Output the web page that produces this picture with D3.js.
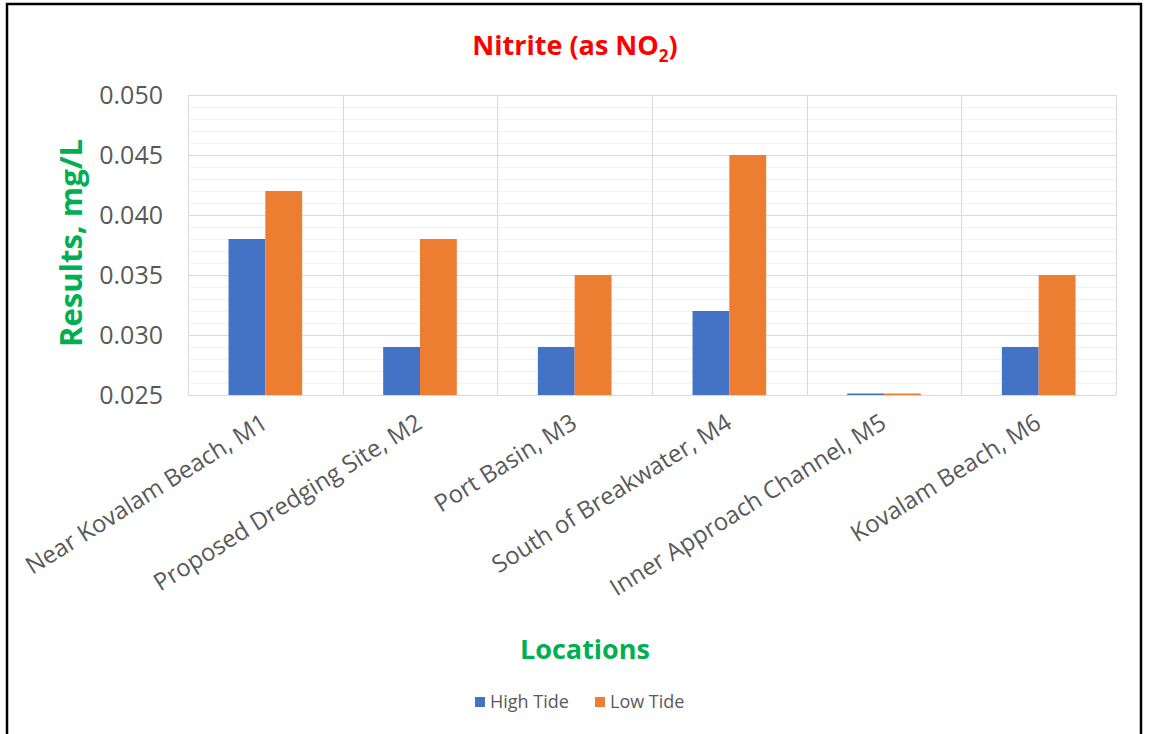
<!DOCTYPE html>
<html><head><meta charset="utf-8">
<script src="https://cdn.jsdelivr.net/npm/d3@7"></script>
<style>body{margin:0;background:#fff;} text{font-family:"Open Sans","Noto Sans",sans-serif;}</style>
</head><body>
<svg id="c" width="1149" height="734"></svg>
<script>
const categories = ["Near Kovalam Beach, M1","Proposed Dredging Site, M2","Port Basin, M3","South of Breakwater, M4","Inner Approach Channel, M5","Kovalam Beach, M6"];
const seriesNames = ["High Tide","Low Tide"];
const highTide = [0.038,0.029,0.029,0.032,0.025,0.029];
const lowTide = [0.042,0.038,0.035,0.045,0.025,0.035];
const yTicks = [0.025,0.030,0.035,0.040,0.045,0.050];
const colors = ["#4472C4","#ED7D31"];

const svg = d3.select("#c");
svg.append("rect").attr("x",7).attr("y",4).attr("width",1134).attr("height",740)
  .attr("fill","#fff").attr("stroke","#000").attr("stroke-width",2.5);

const L=188,R=1116,T=95,B=395;
const x = d3.scaleBand().domain(categories).range([L,R]);
const y = d3.scaleLinear().domain([0.025,0.050]).range([B,T]);
const sub = d3.scaleBand().domain(seriesNames).range([0,x.bandwidth()]).paddingInner(0).paddingOuter(1.1);

// minor gridlines
const minor = d3.range(26).map(i=>0.025+i*0.001);
svg.append("g").selectAll("line").data(minor).join("line")
  .attr("x1",L).attr("x2",R).attr("y1",d=>Math.round(y(d))+0.5).attr("y2",d=>Math.round(y(d))+0.5)
  .attr("stroke","#F2F2F2").attr("stroke-width",1);
// major gridlines
svg.append("g").selectAll("line").data(yTicks).join("line")
  .attr("x1",L).attr("x2",R).attr("y1",d=>Math.round(y(d))+0.5).attr("y2",d=>Math.round(y(d))+0.5)
  .attr("stroke","#D9D9D9").attr("stroke-width",1);
// vertical gridlines
const vx = categories.map(c=>x(c)).concat([R]);
svg.append("g").selectAll("line").data(vx).join("line")
  .attr("x1",d=>Math.round(d)+0.5).attr("x2",d=>Math.round(d)+0.5).attr("y1",T).attr("y2",B)
  .attr("stroke","#D9D9D9").attr("stroke-width",1);

// bars
const data = [highTide, lowTide];
data.forEach((vals,si)=>{
  svg.append("g").selectAll("rect").data(vals).join("rect")
    .attr("x",(d,i)=>x(categories[i])+sub(seriesNames[si]))
    .attr("width",sub.bandwidth())
    .attr("y",d=>Math.min(y(d), B-1.5))
    .attr("height",d=>Math.max(B-y(d),1.5))
    .attr("fill",colors[si]);
});
// baseline
svg.append("line").attr("x1",L).attr("x2",R).attr("y1",B+0.5).attr("y2",B+0.5).attr("stroke","#D9D9D9");

// y axis
const yAxis = d3.axisLeft(y).tickValues(yTicks).tickFormat(d3.format(".3f")).tickSize(0).tickPadding(0);
const gy = svg.append("g").attr("transform",`translate(163,0)`).call(yAxis);
gy.select(".domain").remove();
gy.selectAll("text").attr("font-size",25).attr("fill","#595959").attr("font-family","Open Sans");

// x axis labels
const xAxis = d3.axisBottom(x).tickSize(0).tickPadding(0);
const gx = svg.append("g").attr("transform",`translate(0,${B})`).call(xAxis);
gx.select(".domain").remove();
gx.selectAll("text").attr("font-size",24).attr("fill","#595959")
  .attr("text-anchor","end").attr("dy",0)
  .attr("transform","translate(4,32) rotate(-32)");

// title
const title = svg.append("text").attr("x",575).attr("y",55).attr("text-anchor","middle")
  .attr("fill","#FF0000").attr("font-weight","bold").attr("font-size",27);
title.append("tspan").text("Nitrite (as NO");
title.append("tspan").text("2").attr("font-size",17).attr("dy",7);
title.append("tspan").text(")").attr("dy",-7);

// y title
svg.append("text").attr("transform","translate(82,243) rotate(-90)").attr("text-anchor","middle")
  .attr("fill","#00B050").attr("font-weight","bold").attr("font-size",31).text("Results, mg/L");
// x title
svg.append("text").attr("x",585).attr("y",659).attr("text-anchor","middle")
  .attr("fill","#00B050").attr("font-weight","bold").attr("font-size",27).text("Locations");

// legend
const leg = svg.append("g");
const lx=[475,595];
seriesNames.forEach((n,i)=>{
  leg.append("rect").attr("x",lx[i]).attr("y",697).attr("width",10).attr("height",10).attr("fill",colors[i]);
  leg.append("text").attr("x",lx[i]+15).attr("y",708).attr("font-size",18).attr("fill","#595959").text(n);
});
</script>
</body></html>
